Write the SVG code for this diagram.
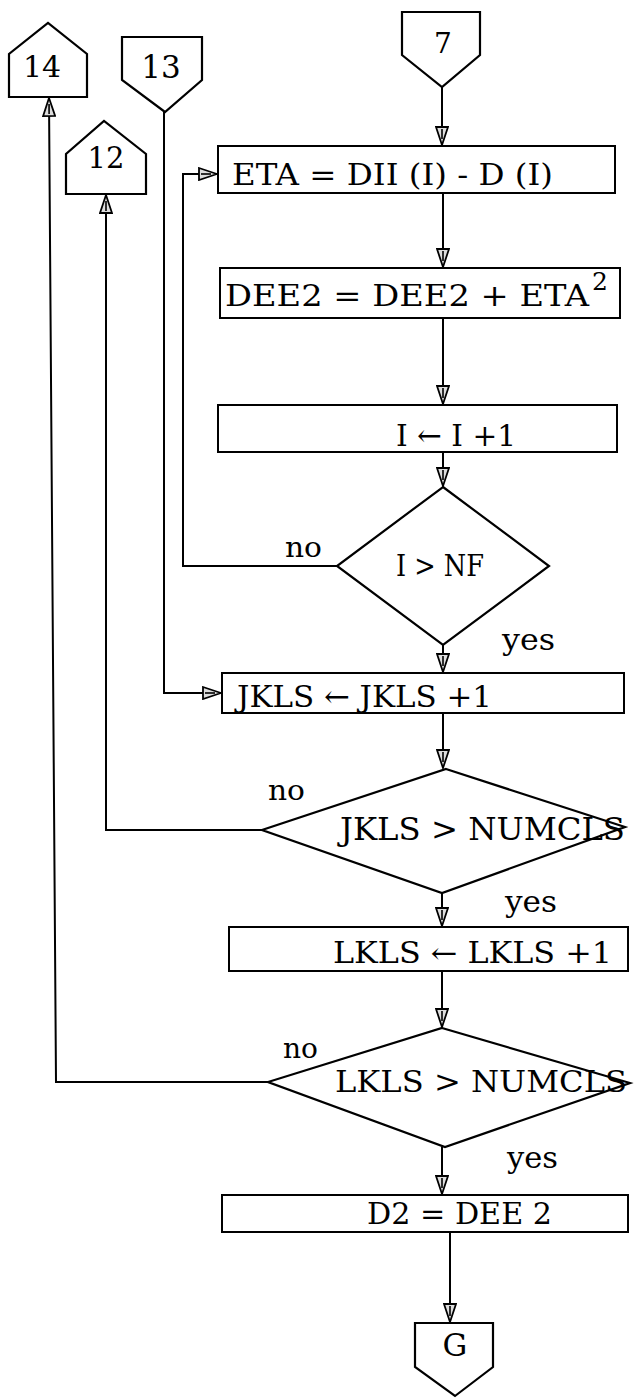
<svg xmlns="http://www.w3.org/2000/svg" width="634" height="1398" viewBox="0 0 634 1398">
<defs>
<style>
.sh{fill:none;stroke:#000;stroke-width:2.2;stroke-linejoin:miter}
.bx{fill:#fff;stroke:#000;stroke-width:2}
.cn{fill:none;stroke:#000;stroke-width:2;marker-end:url(#ah)}
.t{font-family:"DejaVu Serif","Liberation Serif",serif;fill:#000}
</style>
<marker id="ah" markerUnits="userSpaceOnUse" viewBox="0 0 20 14" markerWidth="20" markerHeight="14" refX="19" refY="7" orient="auto">
<path d="M1,1 L19,7 L1,13 Z" fill="#ddd" stroke="#000" stroke-width="1.8"/>
<path d="M3,7 L13,7" stroke="#000" stroke-width="1.6"/>
</marker>
</defs>
<rect width="634" height="1398" fill="#fff"/>

<g id="connectors">
<path class="cn" d="M442,87 V145"/>
<path class="cn" d="M443,193 V267"/>
<path class="cn" d="M443,318 V404"/>
<path class="cn" d="M443,452 V486"/>
<path class="cn" d="M443,645 V672"/>
<path class="cn" d="M337,566 H183 V174 H217"/>
<path class="cn" d="M164,112 V693 H221"/>
<path class="cn" d="M443,713 V768"/>
<path class="cn" d="M262,830 H106 V195"/>
<path class="cn" d="M442,893 V926"/>
<path class="cn" d="M442,971 V1027"/>
<path class="cn" d="M268,1082 H56 L49,98"/>
<path class="cn" d="M442,1147 V1194"/>
<path class="cn" d="M450,1232 V1322"/>
</g>

<g id="n14">
<polygon class="sh" points="9,97 9,54 48,23 87,54 87,97"/>
<text class="t" x="42" y="77" font-size="30" text-anchor="middle">14</text>
</g>
<g id="n13">
<polygon class="sh" points="122,37 202,37 202,80 165,112 122,80"/>
<text class="t" x="161" y="78" font-size="31" text-anchor="middle">13</text>
</g>
<g id="n12">
<polygon class="sh" points="66,194 66,154 104,121 146,154 146,194"/>
<text class="t" x="106" y="168" font-size="29" text-anchor="middle">12</text>
</g>
<g id="n7">
<polygon class="sh" points="402,12 480,12 480,55 442,87 402,55"/>
<text class="t" x="443" y="53" font-size="28" text-anchor="middle">7</text>
</g>

<g id="eta">
<rect class="bx" x="218" y="146" width="397" height="47"/>
<text class="t" x="232" y="185" font-size="30" textLength="321" lengthAdjust="spacingAndGlyphs">ETA = DII (I) - D (I)</text>
</g>
<g id="dee2">
<rect class="bx" x="220" y="268" width="400" height="50"/>
<text class="t" x="225" y="306" font-size="29" textLength="364" lengthAdjust="spacingAndGlyphs">DEE2 = DEE2 + ETA</text>
<text class="t" x="592" y="290" font-size="25">2</text>
</g>
<g id="inc_i">
<rect class="bx" x="218" y="405" width="399" height="47"/>
<text class="t" x="396" y="446" font-size="30" textLength="120" lengthAdjust="spacingAndGlyphs">I ← I +1</text>
</g>
<g id="dec_i">
<polygon class="sh" points="443,487 549,566 443,645 337,566"/>
<text class="t" x="396" y="576" font-size="30" textLength="88" lengthAdjust="spacingAndGlyphs">I &gt; NF</text>
<text class="t" x="285" y="557" font-size="28" textLength="37" lengthAdjust="spacingAndGlyphs">no</text>
<text class="t" x="502" y="650" font-size="29" textLength="53" lengthAdjust="spacingAndGlyphs">yes</text>
</g>
<g id="inc_jkls">
<rect class="bx" x="222" y="673" width="402" height="40"/>
<text class="t" x="237" y="707" font-size="30" textLength="255" lengthAdjust="spacingAndGlyphs">JKLS ← JKLS +1</text>
</g>
<g id="dec_jkls">
<polygon class="sh" points="446,769 625,827 442,893 262,830"/>
<text class="t" x="340" y="840" font-size="31" textLength="285" lengthAdjust="spacingAndGlyphs">JKLS &gt; NUMCLS</text>
<text class="t" x="268" y="800" font-size="28" textLength="37" lengthAdjust="spacingAndGlyphs">no</text>
<text class="t" x="505" y="912" font-size="29" textLength="52" lengthAdjust="spacingAndGlyphs">yes</text>
</g>
<g id="inc_lkls">
<rect class="bx" x="229" y="927" width="399" height="44"/>
<text class="t" x="333" y="963" font-size="29" textLength="279" lengthAdjust="spacingAndGlyphs">LKLS ← LKLS +1</text>
</g>
<g id="dec_lkls">
<polygon class="sh" points="442,1028 630,1083 445,1147 268,1082"/>
<text class="t" x="335" y="1092" font-size="30" textLength="292" lengthAdjust="spacingAndGlyphs">LKLS &gt; NUMCLS</text>
<text class="t" x="283" y="1058" font-size="28" textLength="35" lengthAdjust="spacingAndGlyphs">no</text>
<text class="t" x="507" y="1168" font-size="29" textLength="51" lengthAdjust="spacingAndGlyphs">yes</text>
</g>
<g id="d2">
<rect class="bx" x="222" y="1195" width="406" height="37"/>
<text class="t" x="367" y="1224" font-size="29" textLength="185" lengthAdjust="spacingAndGlyphs">D2 = DEE 2</text>
</g>
<g id="nG">
<polygon class="sh" points="415,1323 493,1323 493,1367 455,1396 415,1367"/>
<text class="t" x="455" y="1356" font-size="31" text-anchor="middle">G</text>
</g>
</svg>
